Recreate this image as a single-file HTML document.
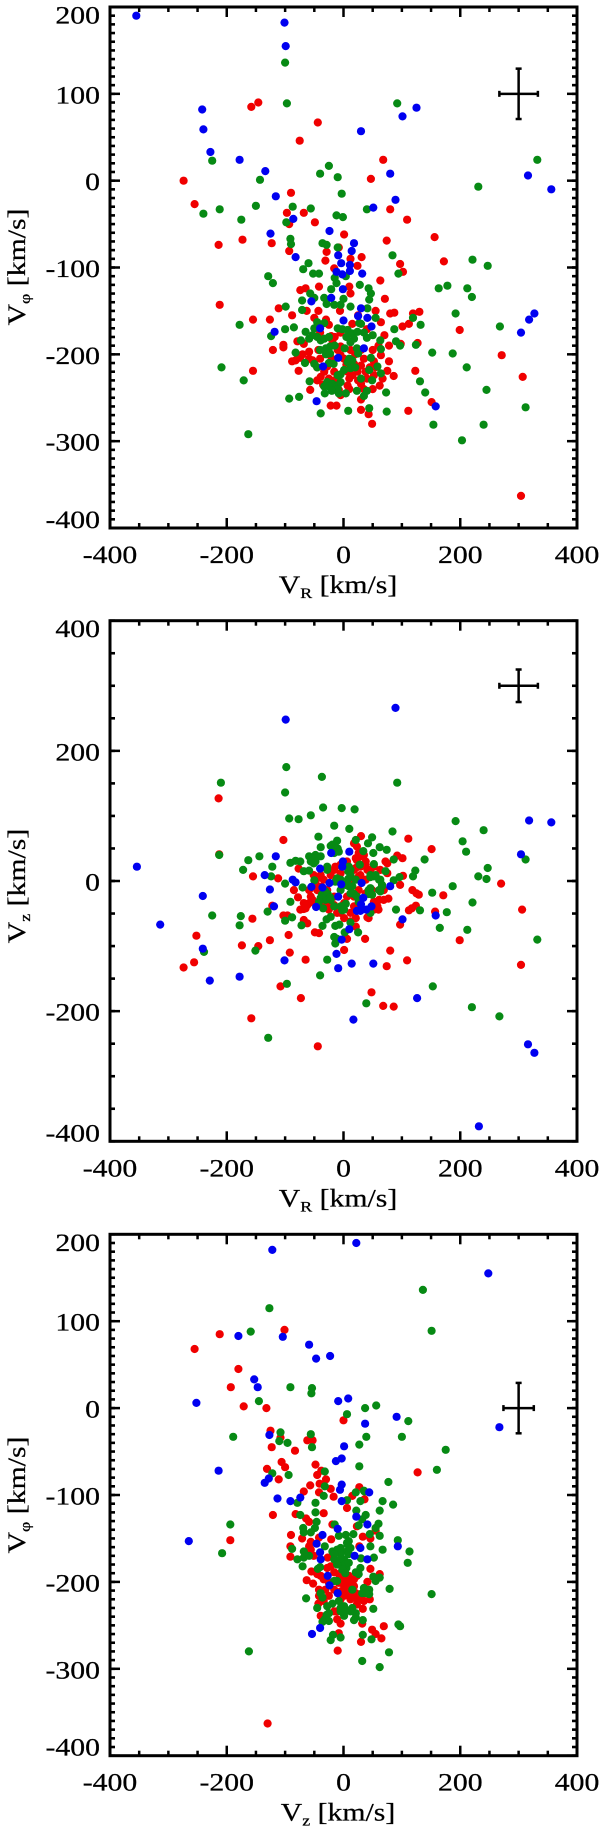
<!DOCTYPE html>
<html lang="en">
<head>
<meta charset="utf-8">
<title>Velocity scatter panels</title>
<style>
html,body{margin:0;padding:0;background:#fff;}
svg{display:block;}
text{font-family:"Liberation Serif",serif;fill:#000;stroke:#000;stroke-width:0.25px;}
</style>
</head>
<body>
<svg id="chart" xmlns="http://www.w3.org/2000/svg" width="600" height="1829" viewBox="0 0 600 1829"></svg>
<script>
const xTickLabels = [-400, -200, 0, 200, 400];
const xMinorTicks = [-350, -300, -250, -150, -100, -50, 50, 100, 150, 250, 300, 350];
const yTickLabelsWide = [-400, -300, -200, -100, 0, 100, 200];
const yMinorStepWide = 10;
const yTickLabelsTall = [-400, -200, 0, 200, 400];
const yMinorStepTall = 50;

const panel1Red = [[-158,85],[-146,90],[-75,46],[-274,0],[-255,-27],[-90,-14],[-97,-37],[-93,-50],[-173,-68],[-214,-74],[-123,-72],[-93,-81],[-44,67],[68,24],[47,2],[80,-33],[109,-45],[-68,-37],[-49,-48],[1,-62],[74,-69],[156,-65],[172,-93],[-29,-82],[-8,-77],[12,-90],[31,-88],[-31,-92],[24,-98],[97,-96],[102,-105],[-16,-101],[63,-115],[-42,-122],[10,-122],[-65,-124],[-74,-126],[12,-130],[71,-136],[-212,-143],[-111,-147],[-88,-155],[-155,-160],[-126,-160],[-63,-150],[-43,-150],[-6,-150],[-50,-158],[80,-153],[87,-152],[119,-153],[130,-151],[101,-168],[112,-165],[64,-163],[70,-178],[40,-171],[-25,-166],[-21,-179],[-19,-184],[-79,-185],[-68,-188],[-103,-189],[-103,-192],[-121,-195],[-43,-195],[-59,-197],[-5,-191],[12,-195],[78,-190],[127,-187],[98,-188],[199,-172],[271,-201],[307,-226],[64,-201],[-88,-208],[-82,-207],[-74,-204],[-59,-205],[-53,-207],[78,-208],[52,-208],[-5,-201],[1,-205],[18,-211],[30,-213],[24,-220],[7,-220],[15,-224],[38,-220],[52,-224],[75,-219],[67,-228],[86,-225],[123,-219],[-155,-219],[-77,-219],[-39,-226],[-45,-230],[-33,-220],[-28,-214],[-16,-220],[62,-236],[30,-234],[7,-236],[-57,-241],[-8,-241],[-5,-247],[30,-252],[-22,-259],[-12,-259],[30,-264],[43,-269],[111,-265],[49,-280],[151,-255],[304,-363],[-40,-205],[-25,-200],[-10,-195],[5,-212],[20,-200],[35,-205],[45,-215],[25,-230],[40,-228],[55,-215],[10,-228],[-15,-230],[-25,-228],[-35,-235],[-45,-215],[30,-195],[50,-195],[60,-190],[-15,-180],[-5,-175],[15,-165],[25,-155],[35,-240],[50,-240],[-70,-200],[-40,-175],[-30,-160],[55,-150],[-20,-205],[10,-240]];
const panel1Green = [[-100,136],[-97,89],[-225,23],[-143,1],[-87,-30],[-150,-29],[-240,-38],[-212,-33],[-175,-45],[-98,-48],[-91,-67],[-90,-73],[92,89],[332,24],[231,-7],[-25,17],[-40,8],[-10,4],[-3,-15],[-56,-32],[40,-33],[-12,-40],[-1,-42],[-36,-72],[-29,-74],[-10,-77],[84,-86],[221,-91],[247,-98],[-60,-95],[-69,-102],[-52,-107],[-42,-107],[94,-107],[-129,-110],[-121,-118],[-15,-112],[-12,-118],[4,-110],[28,-120],[43,-124],[163,-124],[178,-121],[212,-124],[220,-134],[-21,-125],[-57,-130],[-50,-135],[-71,-138],[-33,-135],[-29,-142],[47,-130],[44,-137],[41,-147],[0,-136],[-5,-143],[12,-145],[-16,-143],[-99,-145],[-71,-149],[55,-158],[-100,-171],[-85,-169],[-124,-179],[-178,-166],[132,-166],[119,-158],[192,-153],[268,-168],[87,-171],[27,-164],[-45,-163],[-33,-164],[-50,-170],[-10,-170],[-2,-171],[7,-172],[15,-176],[24,-174],[-65,-174],[-53,-178],[-59,-182],[-73,-184],[-39,-184],[-33,-182],[18,-182],[12,-186],[40,-181],[50,-178],[63,-184],[90,-185],[97,-190],[124,-189],[152,-198],[187,-199],[64,-194],[23,-193],[25,-199],[2,-193],[-23,-191],[-30,-193],[-30,-200],[-23,-199],[-82,-198],[47,-204],[15,-207],[7,-209],[-17,-211],[-25,-210],[-50,-211],[-66,-210],[-45,-215],[58,-214],[44,-218],[64,-222],[12,-216],[1,-218],[-10,-224],[-5,-223],[30,-228],[49,-230],[131,-231],[211,-215],[-209,-215],[-58,-231],[-171,-230],[-28,-232],[-19,-234],[-10,-236],[-33,-237],[-25,-237],[23,-242],[40,-242],[73,-244],[140,-244],[245,-241],[35,-248],[4,-245],[-8,-245],[-32,-245],[-93,-251],[-76,-249],[44,-262],[8,-265],[-39,-268],[74,-266],[154,-281],[240,-281],[203,-299],[312,-261],[-163,-292],[-25,-180],[-15,-190],[5,-180],[30,-165],[35,-175],[-45,-180],[-40,-195],[-10,-240],[-20,-242],[-5,-232],[10,-205],[20,-215]];
const panel1Blue = [[-355,190],[-101,182],[-99,155],[-242,82],[-240,59],[-228,33],[-178,24],[-134,11],[-116,-18],[-86,-44],[-125,-61],[-82,-88],[125,84],[101,74],[30,57],[80,8],[316,6],[356,-10],[89,-22],[51,-31],[-24,-58],[18,-72],[14,-81],[-9,-86],[-4,-95],[11,-97],[11,-104],[-12,-105],[-2,-108],[32,-107],[-1,-125],[-21,-135],[-55,-139],[30,-147],[25,-156],[41,-158],[0,-161],[48,-168],[-40,-170],[-118,-174],[35,-193],[-9,-204],[-35,-214],[-46,-254],[158,-260],[327,-153],[318,-160],[304,-175]];

const panel2Red = [[-214,127],[-213,41],[-103,63],[-155,7],[30,69],[111,65],[151,49],[270,-4],[129,-21],[118,-14],[125,-19],[171,-22],[306,-44],[-112,4],[-77,19],[-252,-84],[-256,-125],[-274,-133],[-174,-99],[-156,-58],[-146,-100],[-126,-91],[-94,-83],[-92,-110],[-65,-121],[-108,-162],[-73,-180],[-158,-211],[-44,-254],[48,-171],[68,-192],[86,-193],[74,-131],[80,-107],[109,-122],[1,-106],[37,-89],[199,-91],[304,-129],[97,-67],[157,-47],[-49,-79],[-42,-80],[-68,-60],[-62,-65],[-103,-53],[-96,-53],[112,-45],[124,-38],[117,-42],[26,43],[23,32],[38,30],[75,27],[92,39],[101,35],[102,8],[97,-6],[77,-27],[60,-44],[52,-44],[-85,-14],[-78,-25],[-68,-34],[-74,-44],[-56,-24],[-62,-37],[-122,-38],[6,-89],[21,-70],[41,-56],[-39,9],[-34,2],[-28,-14],[-16,17],[-5,12],[18,17],[29,22],[41,17],[12,2],[26,7],[63,17],[75,12],[69,-14],[61,-29],[-39,-34],[-25,-44],[-11,-49],[1,-57],[12,-62],[18,-39],[1,-34],[-59,-14],[-45,-14],[-51,9],[-48,-34],[63,-14],[49,-14],[18,58],[23,53],[35,40],[52,22],[72,30],[43,-57],[-68,-43],[-45,4],[-48,-3],[-22,9],[-14,22],[-5,25],[6,30],[21,35],[29,38],[38,25],[46,17],[21,20],[29,9],[38,2],[26,-14],[18,-24],[6,-24],[-59,-34],[-53,-29],[-65,-42],[-28,-37],[-16,-24],[12,-49],[21,-57],[-5,-49],[-16,-37],[58,-39],[69,-29],[52,-32],[38,-19],[-39,-9]];
const panel2Green = [[-210,151],[92,151],[-100,136],[-98,175],[-37,160],[-35,113],[-3,112],[19,110],[-93,96],[-77,95],[-56,101],[192,92],[240,78],[204,61],[210,45],[139,33],[84,76],[247,20],[231,7],[245,3],[312,33],[187,-8],[152,-18],[221,-33],[-213,40],[-163,32],[-144,38],[-172,17],[-122,22],[-124,7],[-16,85],[10,80],[-43,68],[-39,52],[-22,54],[-11,62],[-10,50],[21,63],[49,67],[42,58],[62,52],[74,48],[51,43],[34,46],[-91,28],[-82,31],[-74,30],[-59,38],[-53,35],[-48,40],[-51,27],[-68,15],[-59,16],[-28,22],[8,15],[12,17],[28,25],[52,26],[86,33],[123,16],[119,7],[72,15],[96,6],[86,1],[52,7],[63,2],[46,6],[-100,-4],[-50,1],[-11,4],[8,3],[-70,-10],[9,-8],[-5,-14],[-34,-19],[-27,-20],[-39,-26],[-31,-29],[-23,-25],[18,-20],[46,-11],[43,-20],[66,-6],[61,-14],[-91,-32],[-35,-42],[-16,-39],[4,-35],[-2,-45],[90,-44],[131,-45],[-130,-47],[-100,-61],[-88,-56],[-176,-54],[-178,-68],[-225,-53],[-72,-68],[-36,-69],[-29,-59],[-22,-55],[-14,-69],[-7,-67],[12,-64],[25,-79],[165,-72],[212,-75],[177,-48],[332,-90],[-16,-86],[-11,-89],[-14,-96],[2,-79],[-151,-107],[-239,-109],[-28,-121],[-40,-145],[-97,-158],[153,-162],[39,-188],[220,-194],[267,-208],[-129,-241],[46,-49],[-37,-21],[-31,-16],[-22,-29],[-42,-32],[-14,-1],[-5,2],[3,-6],[15,-8],[21,2],[12,-19],[23,-24],[26,-32],[-19,56],[-14,50],[-8,45],[-16,43],[46,9],[55,9],[61,2],[66,-8],[63,-16],[43,-14],[49,-21],[-48,30],[-56,30],[-39,38],[9,22],[12,9],[-28,17],[-5,-39],[1,-44]];
const panel2Blue = [[-354,22],[-241,-23],[-99,248],[89,266],[318,93],[356,90],[304,41],[-116,38],[-135,9],[-87,2],[-82,-2],[-126,-13],[-119,-39],[-55,-9],[-36,-10],[-24,-3],[-4,-5],[-21,43],[10,45],[-1,30],[-2,22],[-40,19],[31,-3],[80,-8],[-9,-24],[-47,-40],[34,-26],[30,-36],[48,-39],[39,-44],[23,-46],[29,-46],[101,-59],[10,-74],[-3,-90],[-12,-112],[-101,-122],[-9,-134],[14,-127],[51,-127],[158,-53],[-178,-147],[-314,-67],[-241,-104],[-229,-153],[17,-213],[126,-180],[232,-377],[316,-251],[327,-264]];

const panel3Red = [[-212,85],[-255,68],[-101,90],[-180,45],[-193,24],[-171,2],[-132,0],[0,-14],[-125,-26],[-108,-34],[-62,-37],[-53,-37],[-123,-45],[-83,-49],[-106,-62],[-100,-68],[-131,-70],[-48,-65],[-45,-77],[-38,-72],[-30,-82],[-111,-82],[-57,-89],[-41,-87],[-68,-96],[-42,-97],[-22,-93],[27,-91],[15,-101],[36,-105],[-17,-102],[127,-74],[6,-115],[-121,-123],[-82,-122],[-34,-121],[-64,-127],[-59,-131],[-19,-134],[23,-136],[55,-141],[-90,-146],[-71,-150],[-91,-159],[-91,-171],[-42,-149],[-56,-154],[-59,-159],[-56,-163],[-21,-151],[33,-148],[46,-150],[27,-159],[-51,-170],[-27,-172],[46,-185],[62,-191],[-55,-188],[-63,-198],[-52,-202],[-45,-191],[-28,-184],[-22,-182],[-8,-191],[6,-197],[15,-197],[23,-193],[41,-200],[1,-205],[9,-207],[18,-205],[-5,-211],[6,-214],[18,-218],[26,-220],[35,-222],[45,-220],[-42,-209],[-43,-225],[-25,-216],[-11,-234],[33,-231],[-39,-239],[-11,-243],[-5,-248],[32,-248],[69,-251],[49,-255],[55,-260],[65,-265],[-8,-259],[30,-269],[-10,-279],[-194,-152],[-130,-363],[-1,-193],[9,-193],[18,-197],[6,-203],[-2,-201],[12,-201],[4,-211],[12,-211],[21,-213],[1,-216],[-8,-201],[-16,-209],[-25,-201],[-31,-209],[-34,-197],[-39,-193],[-16,-189],[-8,-213],[23,-226],[32,-214],[12,-220],[-5,-220],[-34,-222],[-42,-216],[-16,-234]];
const panel3Green = [[-127,115],[136,136],[151,89],[-159,88],[-91,24],[-54,23],[-55,17],[-145,8],[56,3],[37,0],[6,-7],[111,-15],[39,-33],[100,-33],[-189,-33],[27,-42],[175,-48],[-108,-28],[-56,-30],[-110,-38],[-96,-40],[-54,-45],[27,-67],[160,-71],[-122,-75],[-94,-77],[-32,-73],[77,-85],[-32,-90],[-34,-101],[36,-96],[21,-97],[35,-95],[6,-106],[29,-107],[67,-107],[85,-111],[-48,-109],[-79,-109],[-48,-120],[62,-118],[-74,-123],[22,-118],[38,-123],[32,-128],[26,-135],[60,-133],[55,-138],[-46,-131],[-49,-138],[-69,-138],[-68,-143],[-56,-143],[-15,-134],[-8,-147],[4,-146],[17,-145],[45,-145],[62,-147],[9,-153],[46,-159],[67,-163],[93,-152],[113,-165],[110,-178],[-88,-162],[-79,-174],[-68,-165],[-68,-172],[-59,-170],[-32,-159],[-5,-161],[7,-157],[6,-165],[-5,-168],[1,-174],[-19,-165],[-16,-174],[30,-173],[52,-172],[5,-184],[-2,-178],[-70,-182],[-40,-183],[-44,-185],[29,-184],[21,-189],[-11,-199],[-16,-199],[51,-194],[62,-195],[55,-199],[79,-208],[15,-209],[35,-207],[44,-209],[32,-213],[44,-214],[-39,-213],[-36,-218],[-64,-219],[151,-214],[-19,-225],[-8,-222],[1,-228],[15,-230],[51,-231],[-45,-230],[-28,-228],[21,-236],[1,-239],[-5,-234],[-29,-238],[-32,-243],[-25,-245],[-36,-246],[18,-244],[33,-244],[94,-249],[97,-251],[33,-261],[-5,-264],[-18,-261],[-22,-267],[48,-266],[-162,-280],[78,-281],[32,-291],[62,-298],[-194,-134],[-208,-167],[-11,-163],[-5,-174],[3,-180],[9,-168],[12,-161],[6,-155],[-16,-168],[-11,-180],[9,-178],[-2,-186],[3,-190],[26,-191],[-5,-230],[4,-232],[12,-234],[38,-213],[-25,-236],[21,-241]];
const panel3Blue = [[-122,182],[22,190],[248,155],[-180,83],[-104,82],[-59,73],[-47,57],[-23,60],[-153,33],[-147,24],[-252,6],[-9,8],[8,11],[267,-22],[91,-10],[37,-18],[-127,-31],[1,-44],[-3,-58],[-13,-61],[-214,-72],[-128,-81],[-135,-86],[-3,-88],[-6,-94],[44,-97],[-3,-107],[-113,-104],[-91,-107],[-74,-103],[22,-125],[41,-134],[-10,-139],[-36,-146],[-46,-156],[93,-159],[29,-161],[19,-170],[-40,-166],[-39,-174],[41,-174],[-27,-193],[-24,-204],[-10,-213],[-40,-253],[-54,-260],[-265,-153]];

const errorBar1 = [300, 100, 33, 29];
const errorBar2 = [300, 300, 33, 25];
const errorBar3 = [300, 0, 26, 29];

const svgNS = 'http://www.w3.org/2000/svg';
const root = document.getElementById('chart');
const INK = '#000';
const X_LEFT = 110, X_RIGHT = 577;
const STRETCH = 1.19;

function scaleX(v) { return X_LEFT + (v + 400) / 800 * (X_RIGHT - X_LEFT); }

function line(parent, x1, y1, x2, y2, w, name) {
  const el = document.createElementNS(svgNS, 'line');
  el.setAttribute('x1', x1);
  el.setAttribute('y1', y1);
  el.setAttribute('x2', x2);
  el.setAttribute('y2', y2);
  el.setAttribute('stroke', INK);
  el.setAttribute('stroke-width', w);
  
  
  parent.appendChild(el);
  return el;
}

function label(parent, str, x, y, anchor, name) {
  const el = document.createElementNS(svgNS, 'text');
  el.setAttribute('transform', 'translate(' + x + ',' + y + ') scale(' + STRETCH + ',1)');
  el.setAttribute('text-anchor', anchor);
  el.setAttribute('font-size', '25');
  el.textContent = str;
  
  
  parent.appendChild(el);
  return el;
}

function axisTitle(parent, main, sub, transform, name) {
  const el = document.createElementNS(svgNS, 'text');
  el.setAttribute('transform', transform);
  el.setAttribute('text-anchor', 'middle');
  el.setAttribute('font-size', '25');
  
  
  const v = document.createElementNS(svgNS, 'tspan');
  v.textContent = 'V';
  el.appendChild(v);
  const s = document.createElementNS(svgNS, 'tspan');
  s.setAttribute('font-size', '15');
  s.setAttribute('dy', '5');
  s.textContent = sub;
  el.appendChild(s);
  const rest = document.createElementNS(svgNS, 'tspan');
  rest.setAttribute('dy', '-5');
  rest.textContent = ' ' + main;
  el.appendChild(rest);
  parent.appendChild(el);
}

function drawSeries(parent, points, color, sy, name) {
  const g = document.createElementNS(svgNS, 'g');
  
  
  g.setAttribute('fill', color);
  points.forEach(function (p) {
    const c = document.createElementNS(svgNS, 'circle');
    c.setAttribute('cx', scaleX(p[0]).toFixed(1));
    c.setAttribute('cy', sy(p[1]).toFixed(1));
    c.setAttribute('r', '4.1');
    
    
    g.appendChild(c);
  });
  parent.appendChild(g);
}

function drawPanel(cfg) {
  const g = document.createElementNS(svgNS, 'g');
  
  
  root.appendChild(g);
  const top = cfg.top, bottom = cfg.bottom;
  const sy = function (v) { return bottom - (v - cfg.yMin) / (cfg.yMax - cfg.yMin) * (bottom - top); };

  drawSeries(g, cfg.red, '#f00000', sy, 'red-stars');
  drawSeries(g, cfg.green, '#078a14', sy, 'green-stars');
  drawSeries(g, cfg.blue, '#0000f0', sy, 'blue-stars');

  xTickLabels.forEach(function (v) {
    const x = scaleX(v);
    line(g, x, bottom, x, bottom - 10, 2.5, 'x-major-tick');
    line(g, x, top, x, top + 10, 2.5, 'x-major-tick-top');
    label(g, String(v), x, bottom + 35, 'middle', 'x-tick-label');
  });
  xMinorTicks.forEach(function (v) {
    const x = scaleX(v);
    line(g, x, bottom, x, bottom - 5, 2.5, 'x-minor-tick');
    line(g, x, top, x, top + 5, 2.5, 'x-minor-tick-top');
  });

  for (let v = cfg.yMin; v <= cfg.yMax; v += cfg.yMinor) {
    const y = sy(v);
    line(g, X_LEFT, y, X_LEFT + 5, y, 2.6, 'y-minor-tick');
    line(g, X_RIGHT, y, X_RIGHT - 5, y, 2.6, 'y-minor-tick-right');
  }
  cfg.yTicks.forEach(function (v) {
    const y = sy(v);
    line(g, X_LEFT, y, X_LEFT + 10, y, 2.5, 'y-major-tick');
    line(g, X_RIGHT, y, X_RIGHT - 10, y, 2.5, 'y-major-tick-right');
    let off = 9.5;
    if (v === cfg.yMax) off = 16.5;
    if (v === cfg.yMin) off = 0;
    label(g, String(v), 100, y + off, 'end', 'y-tick-label');
  });

  const frame = document.createElementNS(svgNS, 'rect');
  frame.setAttribute('x', X_LEFT);
  frame.setAttribute('y', top);
  frame.setAttribute('width', X_RIGHT - X_LEFT);
  frame.setAttribute('height', bottom - top);
  frame.setAttribute('fill', 'none');
  frame.setAttribute('stroke', INK);
  frame.setAttribute('stroke-width', '3');
  
  
  g.appendChild(frame);

  const e = cfg.err;
  const ex = scaleX(e[0]), ey = sy(e[1]);
  const eL = scaleX(e[0] - e[2]), eR = scaleX(e[0] + e[2]);
  const eT = sy(e[1] + e[3]), eB = sy(e[1] - e[3]);
  line(g, eL, ey, eR, ey, 2.5, 'error-bar-horizontal');
  line(g, ex, eT, ex, eB, 2.5, 'error-bar-vertical');
  line(g, eL, ey - 3, eL, ey + 3, 2.5, 'error-bar-cap');
  line(g, eR, ey - 3, eR, ey + 3, 2.5, 'error-bar-cap');
  line(g, ex - 3, eT, ex + 3, eT, 2.5, 'error-bar-cap');
  line(g, ex - 3, eB, ex + 3, eB, 2.5, 'error-bar-cap');

  axisTitle(g, '[km/s]', cfg.xSub, 'translate(338,' + (bottom + 65) + ') scale(' + STRETCH + ',1)', 'x-axis-title');
  axisTitle(g, '[km/s]', cfg.ySub, 'translate(25,' + cfg.yTitleCenter + ') rotate(-90) scale(' + STRETCH + ',1)', 'y-axis-title');
}

drawPanel({ name: 'panel-vr-vphi', top: 7, bottom: 528, yMin: -400, yMax: 200, yMinor: yMinorStepWide, yTicks: yTickLabelsWide, red: panel1Red, green: panel1Green, blue: panel1Blue, err: errorBar1, xSub: 'R', ySub: 'φ', yTitleCenter: 267 });
drawPanel({ name: 'panel-vr-vz', top: 620.7, bottom: 1141.3, yMin: -400, yMax: 400, yMinor: yMinorStepTall, yTicks: yTickLabelsTall, red: panel2Red, green: panel2Green, blue: panel2Blue, err: errorBar2, xSub: 'R', ySub: 'z', yTitleCenter: 886 });
drawPanel({ name: 'panel-vz-vphi', top: 1234.3, bottom: 1755.7, yMin: -400, yMax: 200, yMinor: yMinorStepWide, yTicks: yTickLabelsWide, red: panel3Red, green: panel3Green, blue: panel3Blue, err: errorBar3, xSub: 'z', ySub: 'φ', yTitleCenter: 1495 });
</script>
</body>
</html>
